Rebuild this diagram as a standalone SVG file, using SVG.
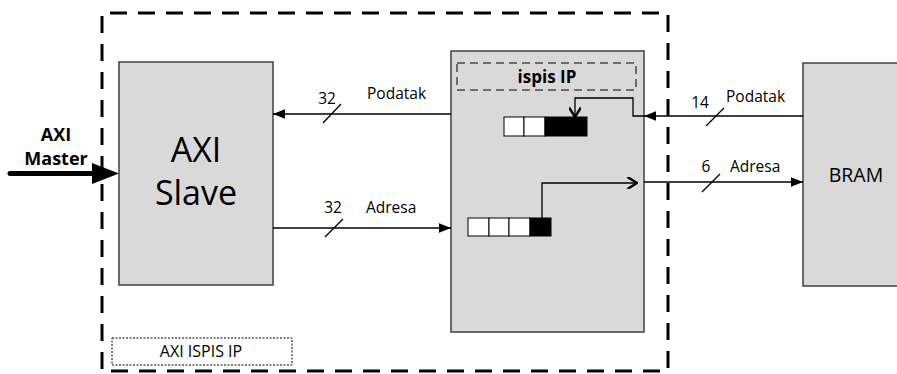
<svg xmlns="http://www.w3.org/2000/svg" width="897" height="374" viewBox="0 0 897 374">
<defs>
<style>
.box{fill:#d9d9d9;stroke:#404040;stroke-width:1.5}
.ln{fill:none;stroke:#000;stroke-width:1.3}
.t{font-family:"Open Sans","Liberation Sans",sans-serif;fill:#000}
.lb{font-size:15.5px}
.cell{fill:#fff;stroke:#000;stroke-width:1}
.blk{fill:#000;stroke:#000;stroke-width:1}
</style>
<marker id="fa" viewBox="0 0 10 10" refX="10" refY="5" markerWidth="12" markerHeight="12" markerUnits="userSpaceOnUse" orient="auto"><path d="M0,1 L10,5 L0,9 Z" fill="#000"/></marker>
<marker id="oa" viewBox="0 0 10 10" refX="9" refY="5" markerWidth="12" markerHeight="12" markerUnits="userSpaceOnUse" orient="auto"><path d="M1,0 L9,5 L1,10" fill="none" stroke="#000" stroke-width="2"/></marker>
</defs>
<rect width="897" height="374" fill="#fff"/>
<g id="outer">
<rect x="102" y="13" width="566" height="358" fill="none" stroke="#000" stroke-width="3" stroke-dasharray="17 11" stroke-dashoffset="-8"/>
<rect x="112" y="338" width="180" height="27" fill="none" stroke="#000" stroke-width="1" stroke-dasharray="2 1.5"/>
<text class="t" x="201" y="357" font-size="16" text-anchor="middle">AXI ISPIS IP</text>
</g>
<g id="axi-slave">
<rect class="box" x="119" y="62" width="154" height="223"/>
<text class="t" x="196" y="162" font-size="34" text-anchor="middle">AXI</text>
<text class="t" x="196" y="205" font-size="34" text-anchor="middle">Slave</text>
</g>
<g id="ispis">
<rect class="box" x="451" y="51" width="193" height="281"/>
<rect x="457" y="63" width="179" height="27" fill="none" stroke="#000" stroke-width="1" stroke-dasharray="8 5"/>
<text class="t" x="547" y="83" font-size="17" font-weight="bold" text-anchor="middle">ispis IP</text>
<rect class="cell" x="504" y="117" width="20" height="19"/>
<rect class="cell" x="524" y="117" width="21" height="19"/>
<rect class="blk" x="545" y="117" width="42" height="19"/>
<rect class="cell" x="468" y="218" width="21" height="18"/>
<rect class="cell" x="489" y="218" width="20" height="18"/>
<rect class="cell" x="509" y="218" width="21" height="18"/>
<rect class="blk" x="530" y="218" width="21" height="18"/>
</g>
<g id="bram">
<rect class="box" x="803" y="63" width="100" height="223"/>
<text class="t" x="856" y="182" font-size="19.5" text-anchor="middle">BRAM</text>
</g>
<g id="master">
<text class="t" x="56" y="141" font-size="18" font-weight="bold" text-anchor="middle">AXI</text>
<text class="t" x="56" y="165" font-size="18" font-weight="bold" text-anchor="middle">Master</text>
</g>
<g id="connectors">
<line x1="10" y1="173.5" x2="95" y2="173.5" stroke="#000" stroke-width="5" stroke-linecap="round"/>
<path d="M92,163 L119,173.5 L92,184 Z" fill="#000"/>
<line class="ln" x1="451" y1="114" x2="273" y2="114" marker-end="url(#fa)"/>
<line class="ln" x1="323" y1="123" x2="341" y2="104"/>
<text class="t lb" x="327" y="104" text-anchor="middle">32</text>
<text class="t lb" x="367" y="99">Podatak</text>
<line class="ln" x1="273" y1="228" x2="451" y2="228" marker-end="url(#fa)"/>
<line class="ln" x1="325" y1="237" x2="343" y2="219"/>
<text class="t lb" x="333" y="213" text-anchor="middle">32</text>
<text class="t lb" x="366" y="213">Adresa</text>
<line class="ln" x1="803" y1="116" x2="644" y2="116" marker-end="url(#fa)"/>
<polyline class="ln" points="644,116 633,116 633,98 575,98 575,117" marker-end="url(#oa)"/>
<line class="ln" x1="706" y1="126" x2="724" y2="108"/>
<text class="t lb" x="700" y="108" text-anchor="middle">14</text>
<text class="t lb" x="726" y="102">Podatak</text>
<polyline class="ln" points="542,218 542,183 637,183" marker-end="url(#oa)"/>
<line class="ln" x1="644" y1="182" x2="803" y2="182" marker-end="url(#fa)"/>
<line class="ln" x1="702" y1="192" x2="720" y2="174"/>
<text class="t lb" x="706" y="172" text-anchor="middle">6</text>
<text class="t lb" x="730" y="172">Adresa</text>
</g>
</svg>
